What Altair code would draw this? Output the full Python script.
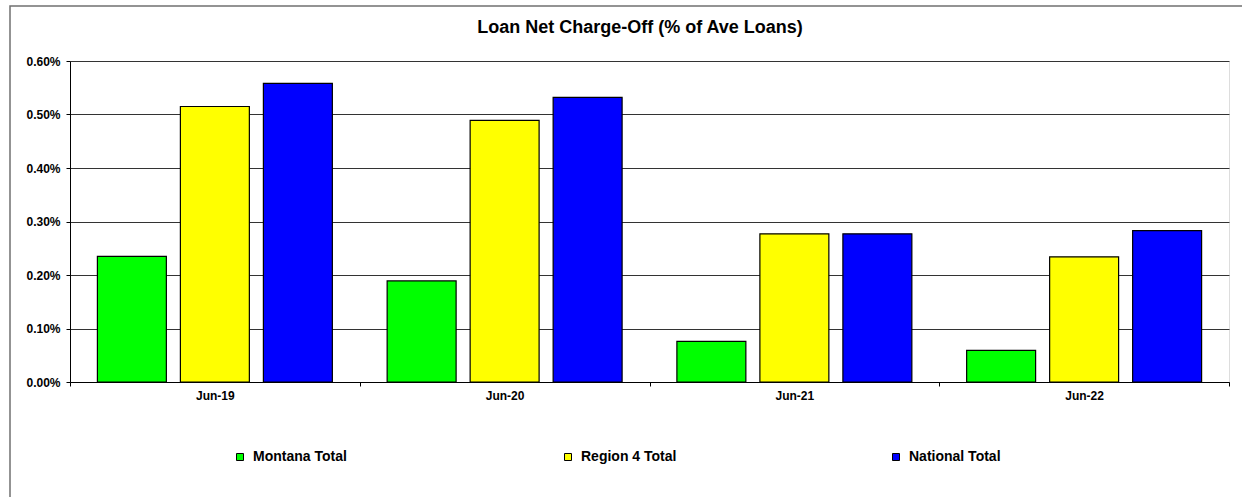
import altair as alt
import pandas as pd

periods = ["Jun-19", "Jun-20", "Jun-21", "Jun-22"]
series = ["Montana Total", "Region 4 Total", "National Total"]
montana = [0.00235, 0.00189, 0.00076, 0.00059]
region4 = [0.00515, 0.00489, 0.00277, 0.00234]
national = [0.00558, 0.00532, 0.00277, 0.00283]
colors = ["#00FF00", "#FFFF00", "#0000FF"]
y_ticks = [0, 0.001, 0.002, 0.003, 0.004, 0.005, 0.006]
chart_title = "Loan Net Charge-Off (% of Ave Loans)"

rows = []
for i, p in enumerate(periods):
    for s, vals in zip(series, [montana, region4, national]):
        rows.append({"period": p, "series": s, "value": vals[i]})
df = pd.DataFrame(rows)

W, H = 1159, 321
FONT = "Liberation Sans"

frame = alt.Chart(alt.Data(values=[{"a": 1}])).mark_rect(
    filled=False, stroke="#707070", strokeWidth=1.5
).encode(
    x=alt.value(-60), x2=alt.value(1200), y=alt.value(-55), y2=alt.value(460)
)

title_mark = alt.Chart(alt.Data(values=[{"t": chart_title}])).mark_text(
    font=FONT, fontSize=18, fontWeight="bold", color="black",
    align="center", baseline="alphabetic"
).encode(text="t:N", x=alt.value(570), y=alt.value(-28))

bars = alt.Chart(df).mark_bar(stroke="black", strokeWidth=1.2).encode(
    x=alt.X(
        "period:N", sort=periods,
        scale=alt.Scale(paddingInner=0, paddingOuter=0),
        axis=alt.Axis(title=None, tickBand="extent", labelAngle=0,
                      labelFontSize=12, labelFontWeight="bold", labelFont=FONT,
                      labelColor="black", tickSize=4, labelPadding=4,
                      domainColor="black", tickColor="black", grid=False),
    ),
    xOffset=alt.XOffset("series:N", sort=series,
                        scale=alt.Scale(paddingInner=0.169, paddingOuter=0.33)),
    y=alt.Y(
        "value:Q",
        scale=alt.Scale(domain=[0, 0.006], nice=False),
        axis=alt.Axis(title=None, format=".2%", values=y_ticks, labelFontSize=12,
                      labelFontWeight="bold", labelFont=FONT, labelColor="black",
                      tickSize=4, labelPadding=6, domainColor="black",
                      tickColor="black", grid=True, gridColor="#333333"),
    ),
    color=alt.Color(
        "series:N", sort=series,
        scale=alt.Scale(domain=series, range=colors),
        legend=alt.Legend(
            title=None, orient="none", direction="horizontal", columns=3,
            legendX=163, legendY=389, gridAlign="all", columnPadding=212,
            symbolType="square", symbolSize=49, symbolStrokeColor="black",
            symbolStrokeWidth=1, symbolOpacity=1, labelOffset=6,
            labelFontSize=14, labelFontWeight="bold", labelFont=FONT,
            labelColor="black", padding=0,
        ),
    ),
)

chart = alt.layer(frame, bars, title_mark).properties(
    width=W, height=H,
    padding={"left": 70, "top": 61, "right": 13, "bottom": 115},
    autosize=alt.AutoSizeParams(type="none"),
).configure_view(stroke="#999999", strokeWidth=1.5).configure(background="white")

chart.save("out.html", embed_options={"renderer": "svg", "actions": False})
